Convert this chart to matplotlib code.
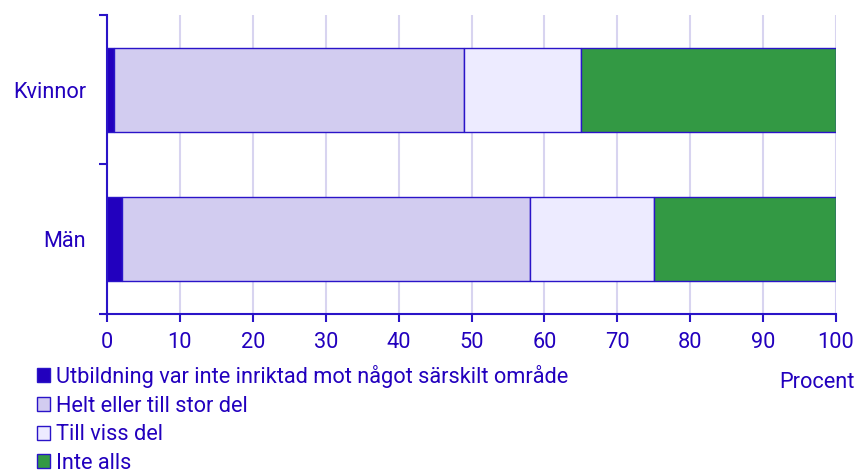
import matplotlib
matplotlib.use("Agg")
import matplotlib.pyplot as plt
from matplotlib.patches import Patch
import numpy as np

plt.rcParams['font.family'] = ['Roboto', 'DejaVu Sans']

categories = ["Män", "Kvinnor"]
series_names = [
    "Utbildning var inte inriktad mot något särskilt område",
    "Helt eller till stor del",
    "Till viss del",
    "Inte alls",
]
values = {
    "Utbildning var inte inriktad mot något särskilt område": [2, 1],
    "Helt eller till stor del": [56, 48],
    "Till viss del": [17, 16],
    "Inte alls": [25, 35],
}
colors = ["#2200BE", "#D2CCF0", "#EDEBFF", "#339944"]
xticks = list(range(0, 101, 10))

txt = "#2200BE"
edge = "#2A14C8"
fs = 15.7

fig = plt.figure(figsize=(8.57, 4.73), dpi=100)
ax = fig.add_axes([107/857, 1-314/473, 729/857, 299/473])

y = np.arange(len(categories))
left = np.zeros(len(categories))
for name, c in zip(series_names, colors):
    v = np.array(values[name], dtype=float)
    ax.barh(y, v, left=left, height=0.56, color=c, edgecolor=edge, linewidth=1.0, zorder=3)
    left += v

ax.set_xlim(0, 100)
ax.set_ylim(-0.5, 1.5)
ax.set_xticks(xticks)
ax.set_xticklabels([str(t) for t in xticks], fontsize=fs, color=txt)
ax.set_yticks([-0.5, 0.5, 1.5])
ax.set_yticklabels([])
ax.set_yticks(y, minor=True)
ax.set_yticklabels(categories, minor=True, fontsize=fs, color=txt)
ax.tick_params(axis='y', which='minor', length=0, pad=15)
ax.tick_params(axis='y', which='major', length=6, width=1.5, color=edge, direction='out')
ax.tick_params(axis='x', length=6, width=1.5, color=edge, pad=7)
ax.grid(axis='x', color="#D8D4F0", linewidth=1.5, zorder=0)
ax.set_axisbelow(True)
for s in ["top", "right"]:
    ax.spines[s].set_visible(False)
for s in ["left", "bottom"]:
    ax.spines[s].set_color(edge)
    ax.spines[s].set_linewidth(1.5)

fig.text(855/857, 1-382/473, "Procent", ha='right', va='center', fontsize=fs, color=txt)

handles = [Patch(facecolor=c, edgecolor=edge, linewidth=1.0) for c in colors]
leg = fig.legend(handles, series_names, loc='upper left', bbox_to_anchor=(37/857, 1-365/473),
                 frameon=False, fontsize=fs, handlelength=0.6, handleheight=0.6,
                 handletextpad=0.25, labelspacing=0.35, borderaxespad=0, borderpad=0)
for t in leg.get_texts():
    t.set_color(txt)

fig.savefig("out.png", dpi=100)
